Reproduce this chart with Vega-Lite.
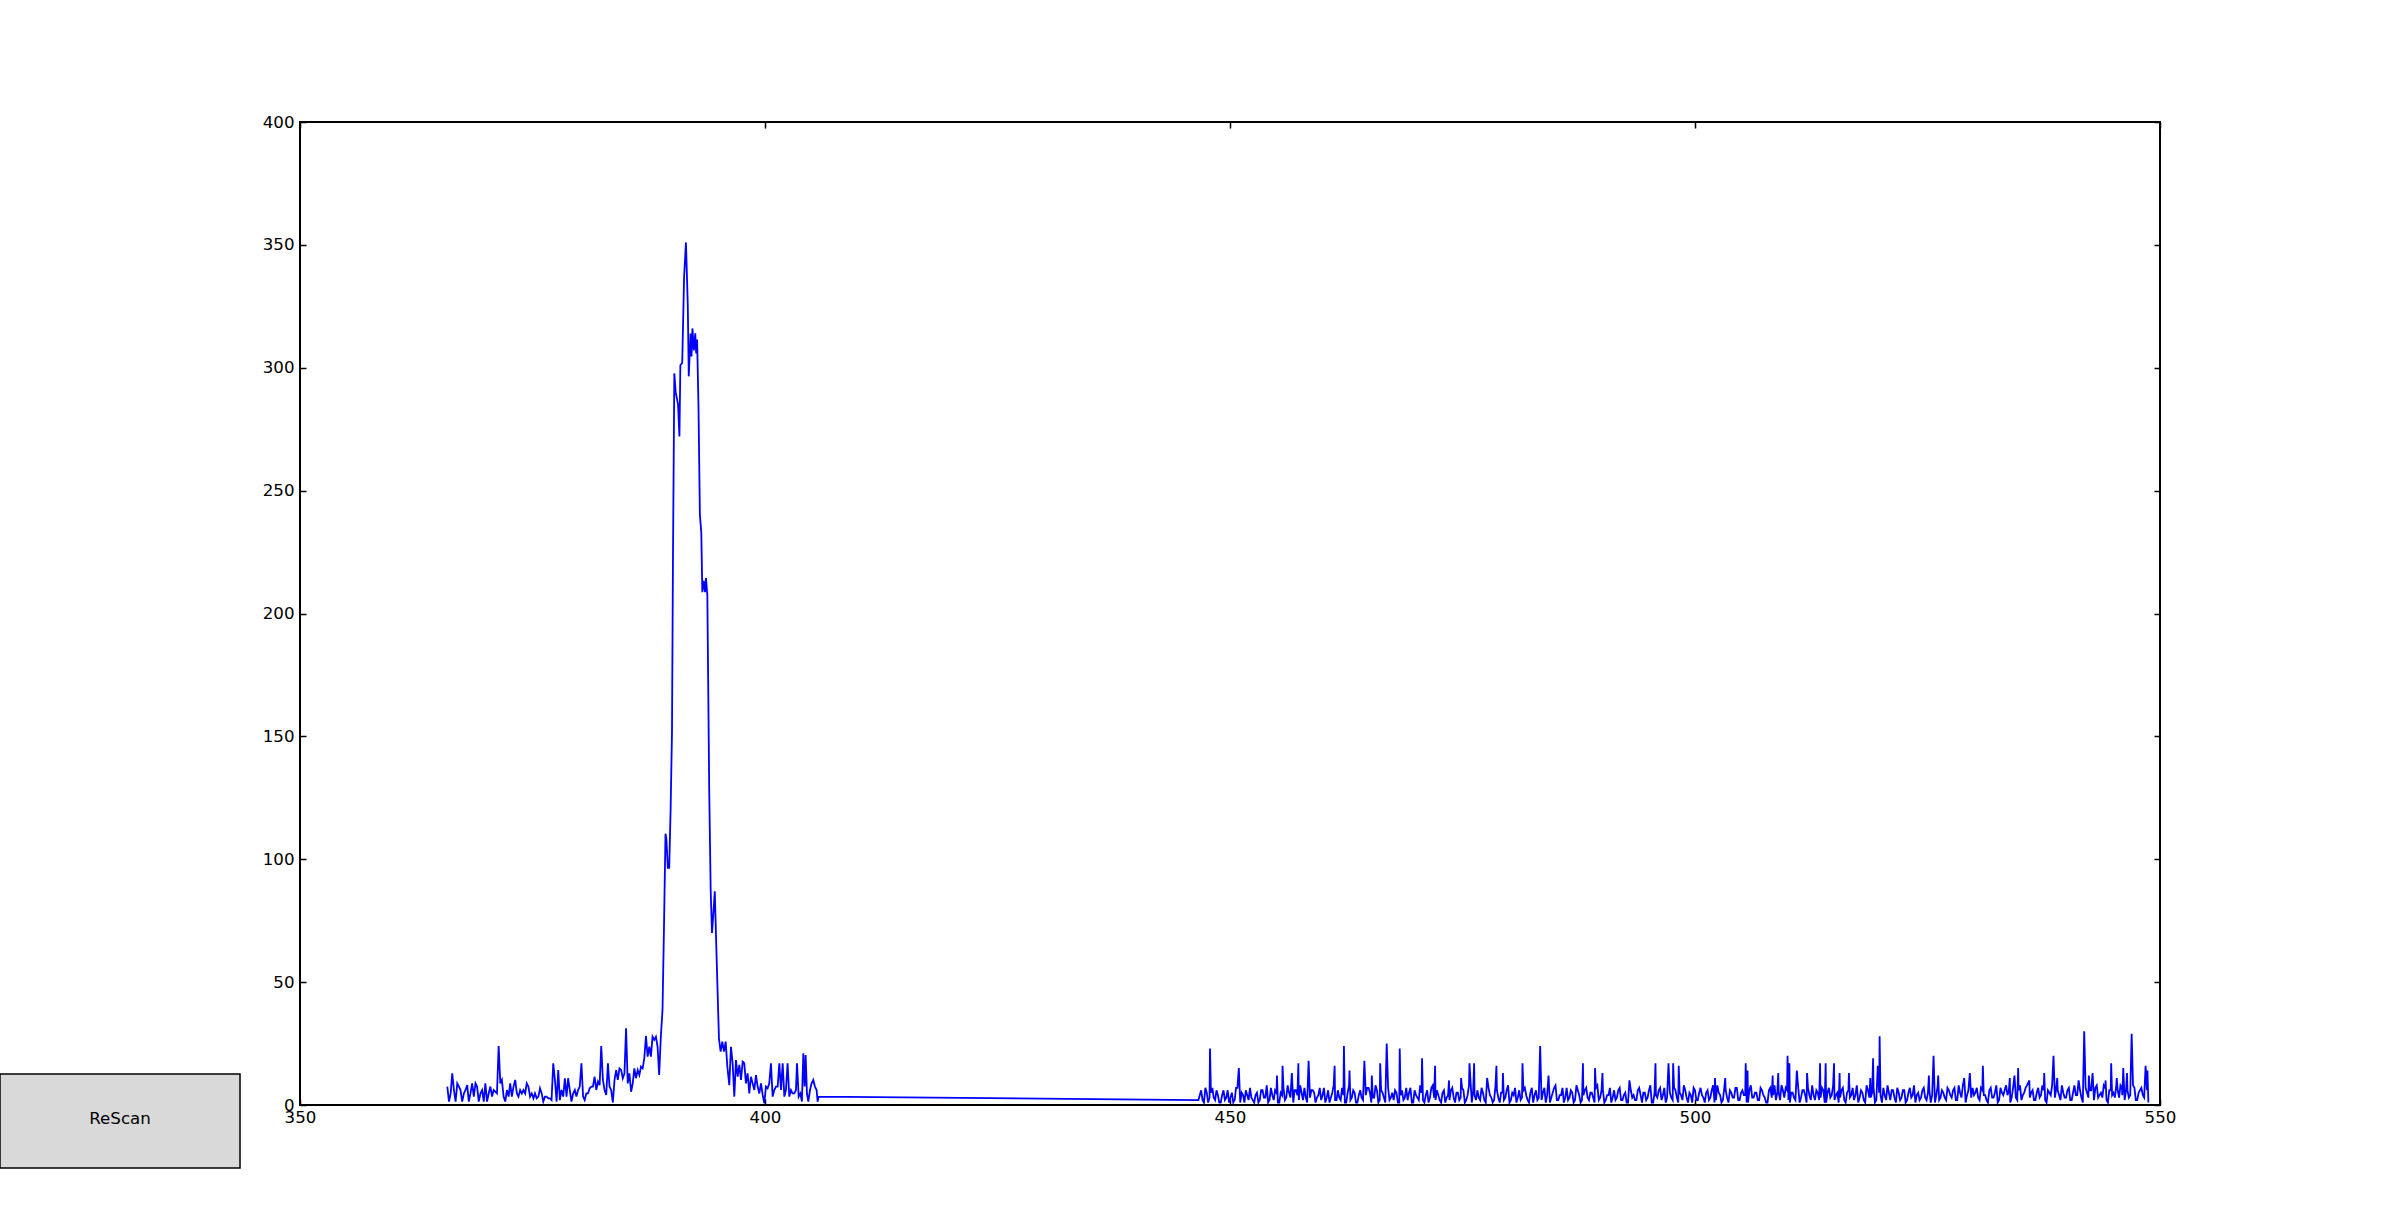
{
"$schema": "https://vega.github.io/schema/vega-lite/v6.json",
"width": 1860, "height": 983,
"autosize": {"type": "none"},
"padding": {"left": 300, "top": 122, "right": 240, "bottom": 123},
"background": "white",
"config": {"view": {"stroke": "black", "strokeWidth": 2}, "font": "DejaVu Sans",
  "axis": {"grid": false, "domain": false, "title": null, "tickColor": "black", "tickWidth": 1.5, "tickSize": -6,
    "labelFont": "DejaVu Sans", "labelFontSize": 16.67, "labelColor": "black", "labelFlush": false, "labelOverlap": false}},
"datasets": {"spectrum": [
{"x":365.84,"y":7.5},{"x":366.02,"y":1.4},{"x":366.2,"y":4.7},{"x":366.37,"y":12.9},{"x":366.55,"y":6.1},{"x":366.73,"y":1.4},{"x":366.91,"y":8.8},{"x":367.09,"y":7.5},{"x":367.26,"y":6.1},{"x":367.44,"y":1.4},
{"x":367.62,"y":4.7},{"x":367.8,"y":6.1},{"x":367.98,"y":8.1},{"x":368.15,"y":1.4},{"x":368.33,"y":4.7},{"x":368.51,"y":8.8},{"x":368.69,"y":3.4},{"x":368.87,"y":8.8},{"x":369.04,"y":7.5},{"x":369.22,"y":1.4},
{"x":369.4,"y":4.7},{"x":369.58,"y":6.1},{"x":369.76,"y":1.4},{"x":369.93,"y":8.8},{"x":370.11,"y":1.4},{"x":370.29,"y":4.7},{"x":370.47,"y":7.5},{"x":370.65,"y":3.4},{"x":370.82,"y":6.1},{"x":371.0,"y":5.4},
{"x":371.18,"y":4.7},{"x":371.36,"y":24},{"x":371.54,"y":8.8},{"x":371.71,"y":10.2},{"x":371.89,"y":3.4},{"x":372.07,"y":1.4},{"x":372.25,"y":6.1},{"x":372.43,"y":3.4},{"x":372.6,"y":8.8},{"x":372.78,"y":3.4},
{"x":372.96,"y":7.5},{"x":373.14,"y":10.2},{"x":373.32,"y":4.7},{"x":373.49,"y":3.4},{"x":373.67,"y":6.1},{"x":373.85,"y":4.7},{"x":374.03,"y":6.1},{"x":374.21,"y":4.7},{"x":374.38,"y":8.8},{"x":374.56,"y":7.5},
{"x":374.74,"y":3.4},{"x":374.92,"y":4.7},{"x":375.1,"y":2.7},{"x":375.27,"y":4.7},{"x":375.45,"y":2.7},{"x":375.63,"y":3.4},{"x":375.81,"y":6.8},{"x":375.99,"y":4.7},{"x":376.16,"y":1.4},{"x":376.34,"y":3.4},
{"x":376.52,"y":3.4},{"x":376.7,"y":2.7},{"x":376.88,"y":2.7},{"x":377.05,"y":2.0},{"x":377.23,"y":17},{"x":377.41,"y":10.2},{"x":377.59,"y":1.4},{"x":377.77,"y":14.2},{"x":377.94,"y":2.0},{"x":378.12,"y":6.1},
{"x":378.3,"y":3.4},{"x":378.48,"y":10.9},{"x":378.66,"y":3.4},{"x":378.83,"y":10.9},{"x":379.01,"y":6.1},{"x":379.19,"y":1.4},{"x":379.37,"y":4.7},{"x":379.55,"y":6.1},{"x":379.72,"y":3.4},{"x":379.9,"y":6.1},
{"x":380.08,"y":7.5},{"x":380.26,"y":17},{"x":380.44,"y":3.4},{"x":380.61,"y":2.0},{"x":380.79,"y":4.7},{"x":380.97,"y":4.7},{"x":381.15,"y":6.8},{"x":381.33,"y":7.5},{"x":381.5,"y":7.5},{"x":381.68,"y":11.5},
{"x":381.86,"y":6.1},{"x":382.04,"y":9.5},{"x":382.22,"y":8.1},{"x":382.39,"y":24},{"x":382.57,"y":10.2},{"x":382.75,"y":6.1},{"x":382.93,"y":4.1},{"x":383.11,"y":17},{"x":383.28,"y":7.5},{"x":383.46,"y":6.1},
{"x":383.64,"y":1},{"x":383.82,"y":10.2},{"x":384.0,"y":14.2},{"x":384.17,"y":10.2},{"x":384.35,"y":14.9},{"x":384.53,"y":14.2},{"x":384.71,"y":10.9},{"x":384.89,"y":12.9},{"x":385.06,"y":31.2},{"x":385.24,"y":8.8},
{"x":385.42,"y":12.9},{"x":385.6,"y":5.4},{"x":385.78,"y":8.8},{"x":385.95,"y":14.9},{"x":386.13,"y":10.9},{"x":386.31,"y":14.2},{"x":386.49,"y":12.2},{"x":386.67,"y":15.6},{"x":386.84,"y":14.9},{"x":387.02,"y":19},
{"x":387.2,"y":28.1},{"x":387.38,"y":19.7},{"x":387.56,"y":23.7},{"x":387.73,"y":19.7},{"x":387.91,"y":27.8},{"x":388.09,"y":26.5},{"x":388.27,"y":27.8},{"x":388.45,"y":23.7},{"x":388.62,"y":12.2},{"x":388.8,"y":27.8},
{"x":388.98,"y":38.7},
{"x":389.15,"y":75},{"x":389.3,"y":110.4},{"x":389.4,"y":108},{"x":389.55,"y":96.5},{"x":389.7,"y":96.5},{"x":389.85,"y":120},{"x":390.0,"y":152},{"x":390.1,"y":220},{"x":390.25,"y":297.7},{"x":390.4,"y":290},
{"x":390.5,"y":288},{"x":390.65,"y":285},{"x":390.8,"y":272},{"x":390.9,"y":301},{"x":391.1,"y":302},{"x":391.3,"y":337},{"x":391.5,"y":351},{"x":391.7,"y":325},{"x":391.8,"y":296.5},{"x":392.0,"y":313.9},
{"x":392.1,"y":304.6},{"x":392.2,"y":316},{"x":392.35,"y":307},{"x":392.5,"y":314},{"x":392.6,"y":305.8},{"x":392.7,"y":311.5},{"x":392.85,"y":283.8},{"x":393.0,"y":240},{"x":393.15,"y":233},{"x":393.26,"y":208.7},
{"x":393.4,"y":213.3},{"x":393.55,"y":208.7},{"x":393.65,"y":214.4},{"x":393.8,"y":207.5},{"x":394.0,"y":128.9},{"x":394.16,"y":87.3},{"x":394.3,"y":70},{"x":394.45,"y":78},{"x":394.6,"y":87},{"x":394.8,"y":59.5},
{"x":395.05,"y":27},
{"x":395.23,"y":21.7},{"x":395.41,"y":25.8},{"x":395.59,"y":21.7},{"x":395.77,"y":25.8},{"x":395.95,"y":15.6},{"x":396.16,"y":8.1},{"x":396.34,"y":23.7},{"x":396.52,"y":17},{"x":396.7,"y":3.4},{"x":396.88,"y":18.3},
{"x":397.06,"y":11.5},{"x":397.24,"y":16.3},{"x":397.42,"y":10.2},{"x":397.6,"y":17.6},{"x":397.77,"y":17},{"x":397.95,"y":8.8},{"x":398.13,"y":12.9},{"x":398.31,"y":4.7},{"x":398.49,"y":11.5},{"x":398.67,"y":8.8},
{"x":398.85,"y":6.1},{"x":399.03,"y":12.2},{"x":399.21,"y":7.5},{"x":399.39,"y":4.7},{"x":399.57,"y":8.8},{"x":399.75,"y":4.1},{"x":399.93,"y":0.7},{"x":400.1,"y":7.5},{"x":400.28,"y":6.8},{"x":400.46,"y":8.8},
{"x":400.64,"y":17},{"x":400.82,"y":3.4},{"x":401.0,"y":6.1},{"x":401.18,"y":7.5},{"x":401.36,"y":7.5},{"x":401.54,"y":17},{"x":401.72,"y":6.1},{"x":401.9,"y":17},{"x":402.08,"y":3.4},{"x":402.25,"y":6.1},
{"x":402.43,"y":17},{"x":402.61,"y":3.4},{"x":402.79,"y":6.1},{"x":402.97,"y":4.7},{"x":403.15,"y":4.7},{"x":403.33,"y":6.1},{"x":403.44,"y":17},{"x":403.62,"y":3.4},{"x":403.8,"y":4.7},{"x":403.97,"y":1.4},
{"x":404.12,"y":21},{"x":404.26,"y":7.5},{"x":404.37,"y":20.3},{"x":404.51,"y":4.7},{"x":404.66,"y":1.4},{"x":404.84,"y":6.1},{"x":405.01,"y":8.8},{"x":405.19,"y":10.2},{"x":405.37,"y":7.5},{"x":405.55,"y":6.1},
{"x":405.66,"y":1.4},{"x":405.77,"y":3.4},
{"x":446.6,"y":2},{"x":446.9,"y":6},{"x":447.2,"y":1},{"x":447.5,"y":5},{"x":447.8,"y":3},{"x":448.1,"y":7},{"x":448.4,"y":2},{"x":448.7,"y":4},{"x":449.0,"y":1},{"x":449.3,"y":6},
{"x":449.6,"y":3},{"x":449.9,"y":1},{"x":450.2,"y":5},{"x":450.5,"y":2},{"x":450.8,"y":7},{"x":451.1,"y":1},{"x":451.4,"y":4},{"x":451.7,"y":6},{"x":452.0,"y":2},{"x":452.3,"y":3},
{"x":452.6,"y":1},{"x":452.9,"y":5},{"x":453.2,"y":2},{"x":453.5,"y":6},{"x":453.8,"y":3},{"x":454.1,"y":1},{"x":454.4,"y":7},{"x":454.7,"y":2},{"x":455.0,"y":5},{"x":455.3,"y":1},
{"x":455.6,"y":4},{"x":455.9,"y":2},{"x":456.2,"y":8},{"x":456.5,"y":3},{"x":456.8,"y":1},{"x":457.1,"y":6},{"x":457.4,"y":2},{"x":457.7,"y":5},{"x":458.0,"y":7},{"x":458.3,"y":1},
{"x":458.6,"y":3},{"x":458.9,"y":6},{"x":459.2,"y":1},{"x":459.5,"y":4},{"x":459.8,"y":2},{"x":460.1,"y":7},{"x":460.4,"y":3},{"x":460.7,"y":1},{"x":461.0,"y":5},{"x":461.3,"y":2},
{"x":461.6,"y":6},{"x":461.9,"y":2},{"x":462.2,"y":4},{"x":462.5,"y":1},{"x":462.8,"y":8},{"x":463.1,"y":3},{"x":463.4,"y":5},{"x":463.7,"y":1},{"x":464.0,"y":6},{"x":464.3,"y":2},
{"x":464.6,"y":4},{"x":464.9,"y":7},{"x":465.2,"y":1},{"x":465.5,"y":3},{"x":465.8,"y":6},{"x":466.1,"y":2},{"x":466.4,"y":5},{"x":466.7,"y":1},{"x":467.0,"y":7},{"x":467.3,"y":3},
{"x":467.6,"y":2},{"x":467.9,"y":5},{"x":468.2,"y":1},{"x":468.5,"y":6},{"x":468.8,"y":3},{"x":469.1,"y":2},{"x":469.4,"y":7},{"x":469.7,"y":1},{"x":470.0,"y":4},{"x":470.3,"y":2},
{"x":470.6,"y":5},{"x":470.9,"y":1},{"x":471.2,"y":6},{"x":471.5,"y":3},{"x":471.8,"y":8},{"x":472.1,"y":2},{"x":472.4,"y":4},{"x":472.7,"y":1},{"x":473.0,"y":6},{"x":473.3,"y":3},
{"x":473.6,"y":2},{"x":473.9,"y":7},{"x":474.2,"y":1},{"x":474.5,"y":5},{"x":474.8,"y":3},{"x":475.1,"y":6},{"x":475.4,"y":2},{"x":475.7,"y":8},{"x":476.0,"y":1},{"x":476.3,"y":4},
{"x":476.6,"y":6},{"x":476.9,"y":2},{"x":477.2,"y":5},{"x":477.5,"y":1},{"x":477.8,"y":7},{"x":478.1,"y":3},{"x":478.4,"y":2},{"x":478.7,"y":6},{"x":479.0,"y":1},{"x":479.3,"y":5},
{"x":479.6,"y":3},{"x":479.9,"y":8},{"x":480.2,"y":2},{"x":480.5,"y":4},{"x":480.8,"y":1},{"x":481.1,"y":6},{"x":481.4,"y":3},{"x":481.7,"y":7},{"x":482.0,"y":2},{"x":482.3,"y":5},
{"x":482.6,"y":1},{"x":482.9,"y":6},{"x":483.2,"y":3},{"x":483.5,"y":2},{"x":483.8,"y":7},{"x":484.1,"y":4},{"x":484.4,"y":1},{"x":484.7,"y":5},{"x":485.0,"y":8},{"x":485.3,"y":2},
{"x":485.6,"y":4},{"x":485.9,"y":1},{"x":486.2,"y":7},{"x":486.5,"y":3},{"x":486.8,"y":5},{"x":487.1,"y":2},{"x":487.4,"y":6},{"x":487.7,"y":1},{"x":488.0,"y":4},{"x":488.3,"y":7},
{"x":488.6,"y":2},{"x":488.9,"y":5},{"x":489.2,"y":1},{"x":489.5,"y":8},{"x":489.8,"y":3},{"x":490.1,"y":6},{"x":490.4,"y":2},{"x":490.7,"y":4},{"x":491.0,"y":1},{"x":491.3,"y":6},
{"x":491.6,"y":3},{"x":491.9,"y":7},{"x":492.2,"y":2},{"x":492.5,"y":5},{"x":492.8,"y":1},{"x":493.1,"y":6},{"x":493.4,"y":4},{"x":493.7,"y":2},{"x":494.0,"y":7},{"x":494.3,"y":1},
{"x":494.6,"y":5},{"x":494.9,"y":3},{"x":495.2,"y":8},{"x":495.5,"y":1},{"x":495.8,"y":4},{"x":496.1,"y":6},{"x":496.4,"y":2},{"x":496.7,"y":7},{"x":497.0,"y":3},{"x":497.3,"y":5},
{"x":497.6,"y":2},{"x":497.9,"y":6},{"x":498.2,"y":1},{"x":498.5,"y":4},{"x":498.8,"y":8},{"x":499.1,"y":3},{"x":499.4,"y":5},{"x":499.7,"y":1},{"x":500.0,"y":6},{"x":500.3,"y":2},
{"x":500.6,"y":7},{"x":500.9,"y":3},{"x":501.2,"y":5},{"x":501.5,"y":2},{"x":501.8,"y":6},{"x":502.1,"y":1},{"x":502.4,"y":8},{"x":502.7,"y":4},{"x":503.0,"y":2},{"x":503.3,"y":6},
{"x":503.6,"y":1},{"x":503.9,"y":5},{"x":504.2,"y":3},{"x":504.5,"y":7},{"x":504.8,"y":2},{"x":505.1,"y":6},{"x":505.4,"y":4},{"x":505.7,"y":1},{"x":506.0,"y":8},{"x":506.3,"y":3},
{"x":506.6,"y":5},{"x":506.9,"y":2},{"x":507.2,"y":6},{"x":507.5,"y":3},{"x":507.8,"y":1},{"x":508.1,"y":7},{"x":508.4,"y":4},{"x":508.7,"y":2},{"x":509.0,"y":5},{"x":509.3,"y":8},
{"x":509.6,"y":3},{"x":509.9,"y":6},{"x":510.2,"y":1},{"x":510.5,"y":5},{"x":510.8,"y":2},{"x":511.1,"y":7},{"x":511.4,"y":3},{"x":511.7,"y":6},{"x":512.0,"y":1},{"x":512.3,"y":4},
{"x":512.6,"y":8},{"x":512.9,"y":2},{"x":513.2,"y":5},{"x":513.5,"y":3},{"x":513.8,"y":6},{"x":514.1,"y":1},{"x":514.4,"y":7},{"x":514.7,"y":4},{"x":515.0,"y":2},{"x":515.3,"y":5},
{"x":515.6,"y":3},{"x":515.9,"y":7},{"x":516.2,"y":1},{"x":516.5,"y":6},{"x":516.8,"y":4},{"x":517.1,"y":2},{"x":517.4,"y":8},{"x":517.7,"y":3},{"x":518.0,"y":5},{"x":518.3,"y":1},
{"x":518.6,"y":6},{"x":518.9,"y":3},{"x":519.2,"y":7},{"x":519.5,"y":2},{"x":519.8,"y":5},{"x":520.1,"y":1},{"x":520.4,"y":4},{"x":520.7,"y":8},{"x":521.0,"y":2},{"x":521.3,"y":6},
{"x":521.6,"y":1},{"x":521.9,"y":5},{"x":522.2,"y":3},{"x":522.5,"y":6},{"x":522.8,"y":2},{"x":523.1,"y":7},{"x":523.4,"y":4},{"x":523.7,"y":1},{"x":524.0,"y":5},{"x":524.3,"y":3},
{"x":524.6,"y":7},{"x":524.9,"y":2},{"x":525.2,"y":6},{"x":525.5,"y":4},{"x":525.8,"y":1},{"x":526.1,"y":8},{"x":526.4,"y":3},{"x":526.7,"y":5},{"x":527.0,"y":2},{"x":527.3,"y":6},
{"x":527.6,"y":3},{"x":527.9,"y":7},{"x":528.2,"y":2},{"x":528.5,"y":5},{"x":528.8,"y":8},{"x":529.1,"y":1},{"x":529.4,"y":6},{"x":529.7,"y":3},{"x":530.0,"y":4},{"x":530.3,"y":7},
{"x":530.6,"y":2},{"x":530.9,"y":6},{"x":531.2,"y":4},{"x":531.5,"y":1},{"x":531.8,"y":7},{"x":532.1,"y":3},{"x":532.4,"y":8},{"x":532.7,"y":2},{"x":533.0,"y":5},{"x":533.3,"y":6},
{"x":533.6,"y":4},{"x":533.9,"y":1},{"x":534.2,"y":7},{"x":534.5,"y":3},{"x":534.8,"y":6},{"x":535.1,"y":2},{"x":535.4,"y":5},{"x":535.7,"y":8},{"x":536.0,"y":3},{"x":536.3,"y":6},
{"x":536.6,"y":2},{"x":536.9,"y":7},{"x":537.2,"y":4},{"x":537.5,"y":6},{"x":537.8,"y":1},{"x":538.1,"y":5},{"x":538.4,"y":8},{"x":538.7,"y":3},{"x":539.0,"y":6},{"x":539.3,"y":2},
{"x":539.6,"y":5},{"x":539.9,"y":3},{"x":540.2,"y":7},{"x":540.5,"y":2},{"x":540.8,"y":8},{"x":541.1,"y":4},{"x":541.4,"y":6},{"x":541.7,"y":1},{"x":542.0,"y":7},{"x":542.3,"y":3},
{"x":542.6,"y":6},{"x":542.9,"y":2},{"x":543.2,"y":8},{"x":543.5,"y":4},{"x":543.8,"y":3},{"x":544.1,"y":7},{"x":544.4,"y":1},{"x":544.7,"y":6},{"x":545.0,"y":5},{"x":545.3,"y":8},
{"x":545.6,"y":3},{"x":545.9,"y":7},{"x":546.2,"y":2},{"x":546.5,"y":6},{"x":546.8,"y":4},{"x":547.1,"y":8},{"x":547.4,"y":2},{"x":547.7,"y":5},{"x":548.0,"y":7},{"x":548.3,"y":3},
{"x":548.6,"y":6},{"x":548.75,"y":1},
{"x":446.75,"y":4},{"x":447.05,"y":2},{"x":447.35,"y":7},{"x":447.65,"y":1},{"x":447.95,"y":5},{"x":448.25,"y":3},{"x":448.55,"y":6},{"x":448.85,"y":1},{"x":449.15,"y":4},{"x":449.45,"y":2},
{"x":449.75,"y":6},{"x":450.05,"y":3},{"x":450.35,"y":1},{"x":450.65,"y":7},{"x":451.25,"y":5},{"x":451.55,"y":1},{"x":451.85,"y":4},{"x":452.15,"y":7},{"x":452.45,"y":2},
{"x":452.75,"y":4},{"x":453.05,"y":1},{"x":453.35,"y":6},{"x":453.65,"y":3},{"x":453.95,"y":8},{"x":454.25,"y":2},{"x":454.55,"y":4},{"x":454.85,"y":6},{"x":455.15,"y":1},{"x":455.45,"y":5},
{"x":455.75,"y":7},{"x":456.05,"y":3},{"x":456.35,"y":5},{"x":456.95,"y":6},{"x":457.25,"y":4},{"x":457.55,"y":8},{"x":457.85,"y":2},{"x":458.15,"y":3},{"x":458.75,"y":6},
{"x":459.05,"y":5},{"x":459.35,"y":3},{"x":459.65,"y":7},{"x":459.95,"y":4},{"x":460.25,"y":1},{"x":460.55,"y":6},{"x":460.85,"y":3},{"x":461.15,"y":8},{"x":461.45,"y":2},
{"x":461.75,"y":3},{"x":462.05,"y":7},{"x":462.35,"y":1},{"x":462.65,"y":5},{"x":462.95,"y":2},{"x":463.25,"y":6},{"x":463.55,"y":1},{"x":463.85,"y":4},{"x":464.15,"y":3},{"x":464.75,"y":7},
{"x":465.05,"y":5},{"x":465.35,"y":3},{"x":465.65,"y":8},{"x":465.95,"y":1},{"x":466.25,"y":6},{"x":466.55,"y":3},{"x":467.15,"y":2},{"x":467.45,"y":5},
{"x":467.75,"y":6},{"x":468.05,"y":1},{"x":468.35,"y":4},{"x":468.65,"y":2},{"x":468.95,"y":7},{"x":469.25,"y":5},{"x":469.55,"y":1},{"x":469.85,"y":6},{"x":470.15,"y":3},{"x":470.45,"y":8},
{"x":470.75,"y":2},{"x":471.05,"y":4},{"x":471.35,"y":1},{"x":471.65,"y":7},{"x":471.95,"y":3},{"x":472.25,"y":6},{"x":472.55,"y":2},{"x":472.85,"y":5},{"x":473.15,"y":1},{"x":473.45,"y":4},
{"x":473.75,"y":6},{"x":474.05,"y":3},{"x":474.35,"y":5},{"x":474.65,"y":2},{"x":474.95,"y":7},{"x":475.25,"y":1},{"x":475.55,"y":4},{"x":476.15,"y":6},{"x":476.45,"y":2},
{"x":476.75,"y":3},{"x":477.05,"y":7},{"x":477.35,"y":2},{"x":477.95,"y":4},{"x":478.25,"y":1},{"x":478.55,"y":8},{"x":478.85,"y":3},{"x":479.15,"y":5},{"x":479.45,"y":2},
{"x":479.75,"y":6},{"x":480.05,"y":1},{"x":480.35,"y":5},{"x":480.65,"y":7},{"x":480.95,"y":3},{"x":481.25,"y":2},{"x":481.55,"y":6},{"x":481.85,"y":4},{"x":482.15,"y":1},{"x":482.45,"y":7},
{"x":482.75,"y":4},{"x":483.05,"y":2},{"x":483.65,"y":5},{"x":483.95,"y":1},{"x":484.55,"y":3},{"x":484.85,"y":7},{"x":485.15,"y":2},{"x":485.45,"y":4},
{"x":485.75,"y":7},{"x":486.05,"y":3},{"x":486.35,"y":2},{"x":486.65,"y":6},{"x":486.95,"y":1},{"x":487.25,"y":8},{"x":487.55,"y":4},{"x":487.85,"y":2},{"x":488.15,"y":6},{"x":488.45,"y":3},
{"x":488.75,"y":5},{"x":489.05,"y":3},{"x":489.35,"y":7},{"x":489.65,"y":2},{"x":489.95,"y":6},{"x":490.25,"y":1},{"x":490.55,"y":4},{"x":490.85,"y":7},{"x":491.15,"y":3},{"x":491.45,"y":2},
{"x":491.75,"y":6},{"x":492.05,"y":2},{"x":492.35,"y":4},{"x":492.65,"y":1},{"x":493.25,"y":3},{"x":493.55,"y":2},{"x":493.85,"y":6},{"x":494.15,"y":4},{"x":494.45,"y":5},
{"x":494.75,"y":2},{"x":495.05,"y":6},{"x":495.35,"y":1},{"x":495.65,"y":5},{"x":495.95,"y":3},{"x":496.25,"y":7},{"x":496.55,"y":4},{"x":496.85,"y":1},{"x":497.45,"y":3},
{"x":497.75,"y":7},{"x":498.05,"y":3},{"x":498.35,"y":5},{"x":498.65,"y":2},{"x":498.95,"y":6},{"x":499.25,"y":1},{"x":499.55,"y":4},{"x":499.85,"y":7},{"x":500.15,"y":2},{"x":500.45,"y":5},
{"x":500.75,"y":4},{"x":501.05,"y":1},{"x":501.35,"y":6},{"x":501.65,"y":3},{"x":501.95,"y":8},{"x":502.25,"y":2},{"x":502.55,"y":5},{"x":502.85,"y":1},{"x":503.15,"y":7},{"x":503.45,"y":3},
{"x":503.75,"y":6},{"x":504.05,"y":3},{"x":504.35,"y":7},{"x":504.65,"y":2},{"x":504.95,"y":5},{"x":505.25,"y":4},{"x":505.55,"y":1},{"x":505.85,"y":6},{"x":506.15,"y":3},{"x":506.45,"y":5},
{"x":506.75,"y":2},{"x":507.05,"y":7},{"x":507.35,"y":4},{"x":507.65,"y":1},{"x":507.95,"y":6},{"x":508.25,"y":3},{"x":508.55,"y":8},{"x":508.85,"y":5},{"x":509.15,"y":2},{"x":509.45,"y":6},
{"x":509.75,"y":7},{"x":510.05,"y":2},{"x":510.35,"y":5},{"x":510.65,"y":3},{"x":511.25,"y":1},{"x":511.55,"y":6},{"x":511.85,"y":4},{"x":512.15,"y":7},{"x":512.45,"y":2},
{"x":512.75,"y":4},{"x":513.05,"y":6},{"x":513.35,"y":2},{"x":513.65,"y":7},{"x":513.95,"y":1},{"x":514.25,"y":5},{"x":514.55,"y":3},{"x":514.85,"y":8},{"x":515.15,"y":4},{"x":515.45,"y":1},
{"x":515.75,"y":6},{"x":516.05,"y":2},{"x":516.35,"y":5},{"x":516.65,"y":3},{"x":516.95,"y":7},{"x":517.25,"y":4},{"x":517.55,"y":1},{"x":517.85,"y":6},{"x":518.15,"y":2},{"x":518.45,"y":8},
{"x":518.75,"y":3},{"x":519.05,"y":5},{"x":519.35,"y":1},{"x":519.95,"y":4},{"x":520.25,"y":7},{"x":520.55,"y":2},{"x":520.85,"y":5},{"x":521.15,"y":6},{"x":521.45,"y":3},
{"x":521.75,"y":7},{"x":522.05,"y":2},{"x":522.35,"y":6},{"x":522.65,"y":1},{"x":522.95,"y":5},{"x":523.25,"y":3},{"x":523.55,"y":8},{"x":523.85,"y":4},{"x":524.15,"y":2},{"x":524.45,"y":6},
{"x":524.75,"y":3},{"x":525.05,"y":5},{"x":525.35,"y":1},{"x":525.95,"y":4},{"x":526.25,"y":2},{"x":526.55,"y":6},{"x":526.85,"y":3},{"x":527.15,"y":7},{"x":527.45,"y":4},
{"x":527.75,"y":6},{"x":528.05,"y":2},{"x":528.35,"y":8},{"x":528.65,"y":3},{"x":529.25,"y":4},{"x":529.85,"y":7},{"x":530.15,"y":5},{"x":530.45,"y":3},
{"x":530.75,"y":7},{"x":531.05,"y":4},{"x":531.35,"y":2},{"x":531.65,"y":6},{"x":531.95,"y":3},{"x":532.25,"y":5},{"x":532.55,"y":1},{"x":532.85,"y":7},{"x":533.15,"y":4},{"x":533.45,"y":8},
{"x":533.75,"y":6},{"x":534.05,"y":3},{"x":534.65,"y":2},{"x":534.95,"y":8},{"x":535.25,"y":4},{"x":535.55,"y":7},{"x":536.15,"y":5},{"x":536.45,"y":2},
{"x":536.75,"y":5},{"x":537.05,"y":3},{"x":537.35,"y":8},{"x":537.65,"y":2},{"x":537.95,"y":6},{"x":538.25,"y":4},{"x":538.85,"y":7},{"x":539.15,"y":4},{"x":539.45,"y":8},
{"x":539.75,"y":3},{"x":540.05,"y":6},{"x":540.35,"y":2},{"x":540.65,"y":5},{"x":540.95,"y":4},{"x":541.55,"y":3},{"x":542.15,"y":5},{"x":542.45,"y":6},
{"x":543.05,"y":7},{"x":543.35,"y":3},{"x":543.65,"y":5},{"x":543.95,"y":8},{"x":544.25,"y":2},{"x":544.55,"y":6},{"x":544.85,"y":4},{"x":545.15,"y":3},{"x":545.45,"y":6},
{"x":545.75,"y":8},{"x":545.95,"y":4},{"x":546.35,"y":6},{"x":546.65,"y":3},{"x":547.25,"y":7},{"x":547.55,"y":2},{"x":547.85,"y":6},{"x":548.15,"y":4},
{"x":447.85,"y":23},{"x":450.95,"y":15},{"x":455.05,"y":12},{"x":455.65,"y":16},{"x":456.65,"y":13},{"x":457.35,"y":17},{"x":458.45,"y":18},{"x":461.25,"y":16},{"x":462.25,"y":24},{"x":462.85,"y":14},
{"x":464.45,"y":18},{"x":465.25,"y":12},{"x":466.15,"y":17},{"x":466.85,"y":25},{"x":468.25,"y":23},{"x":470.65,"y":19},{"x":472.05,"y":16},{"x":473.55,"y":10},{"x":474.85,"y":11},{"x":475.75,"y":17},
{"x":476.25,"y":17},{"x":477.65,"y":11},{"x":478.65,"y":16},{"x":479.35,"y":13},{"x":481.45,"y":17},{"x":483.35,"y":24},{"x":484.25,"y":12},{"x":487.95,"y":17},{"x":489.25,"y":15},{"x":490.05,"y":13},
{"x":492.95,"y":10},{"x":495.75,"y":17},{"x":497.15,"y":17},{"x":497.65,"y":17},{"x":498.25,"y":16},{"x":502.15,"y":11},{"x":503.25,"y":11},{"x":505.45,"y":17},{"x":505.65,"y":14},{"x":508.35,"y":12},
{"x":508.95,"y":13},{"x":509.95,"y":20},{"x":510.15,"y":17},{"x":510.95,"y":14},{"x":512.05,"y":13},{"x":513.45,"y":17},{"x":514.05,"y":17},{"x":514.95,"y":17},{"x":515.55,"y":13},{"x":516.55,"y":13},
{"x":518.85,"y":11},{"x":519.15,"y":19},{"x":519.65,"y":16},{"x":519.85,"y":28},{"x":525.15,"y":12},{"x":525.65,"y":20},{"x":526.15,"y":12},{"x":528.95,"y":11},{"x":529.55,"y":13},{"x":530.95,"y":16},
{"x":533.85,"y":11},{"x":534.35,"y":12},{"x":534.75,"y":15},{"x":535.95,"y":10},{"x":537.55,"y":13},{"x":538.55,"y":20},{"x":538.95,"y":11},{"x":541.25,"y":10},{"x":541.85,"y":30},{"x":542.35,"y":12},
{"x":542.75,"y":13},{"x":544.15,"y":10},{"x":544.75,"y":17},{"x":545.35,"y":11},{"x":546.05,"y":15},{"x":546.45,"y":13},{"x":546.95,"y":29},{"x":548.45,"y":16},{"x":548.65,"y":14}
]},
"layer": [
  {"data": {"name": "spectrum"},
   "mark": {"type": "line", "color": "#0000ff", "strokeWidth": 1.8, "clip": true},
   "encoding": {
     "x": {"field": "x", "type": "quantitative", "scale": {"domain": [350, 550], "nice": false, "zero": false},
       "axis": {"orient": "bottom", "values": [350, 400, 450, 500, 550], "labelPadding": 10}},
     "y": {"field": "y", "type": "quantitative", "scale": {"domain": [0, 400], "nice": false, "zero": false},
       "axis": {"orient": "left", "values": [0, 50, 100, 150, 200, 250, 300, 350, 400], "labelPadding": 12}}
   }},
  {"data": {"name": "spectrum"},
   "mark": {"type": "line", "opacity": 0},
   "encoding": {
     "x": {"field": "x", "type": "quantitative", "scale": {"domain": [350, 550], "nice": false, "zero": false},
       "axis": {"orient": "top", "values": [350, 400, 450, 500, 550], "labels": false}},
     "y": {"field": "y", "type": "quantitative", "scale": {"domain": [0, 400], "nice": false, "zero": false},
       "axis": {"orient": "right", "values": [0, 50, 100, 150, 200, 250, 300, 350, 400], "labels": false}}
   }},
  {"data": {"values": [{"label": "ReScan"}]},
   "mark": {"type": "rect", "fill": "#d9d9d9", "stroke": "black", "strokeWidth": 1.5, "clip": false},
   "encoding": {
     "x": {"datum": 317.74, "type": "quantitative", "scale": {"domain": [350, 550], "nice": false, "zero": false}, "axis": null},
     "x2": {"datum": 343.55},
     "y": {"datum": 12.6, "type": "quantitative", "scale": {"domain": [0, 400], "nice": false, "zero": false}, "axis": null},
     "y2": {"datum": -25.6}
   }},
  {"data": {"values": [{"label": "ReScan"}]},
   "mark": {"type": "text", "font": "DejaVu Sans", "fontSize": 16.67, "color": "black", "align": "center", "baseline": "middle", "clip": false},
   "encoding": {
     "x": {"datum": 330.65, "type": "quantitative", "scale": {"domain": [350, 550], "nice": false, "zero": false}, "axis": null},
     "y": {"datum": -5.9, "type": "quantitative", "scale": {"domain": [0, 400], "nice": false, "zero": false}, "axis": null},
     "text": {"field": "label"}
   }}
],
"resolve": {"scale": {"x": "independent", "y": "independent"}, "axis": {"x": "independent", "y": "independent"}}
}
